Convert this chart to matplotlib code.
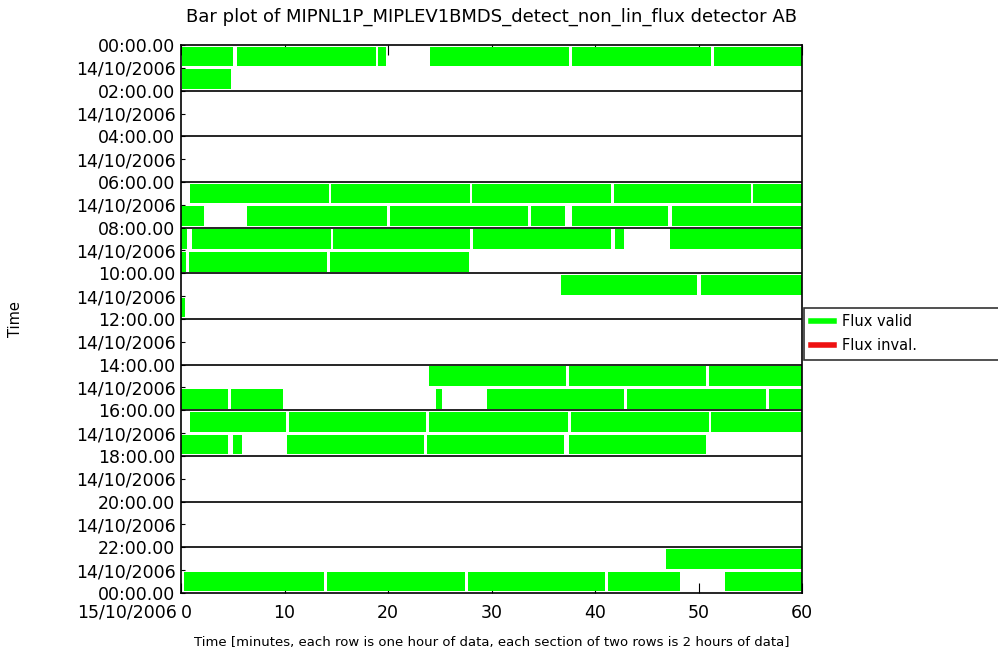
import matplotlib
matplotlib.use('Agg')
import matplotlib.pyplot as plt
from matplotlib.lines import Line2D
from matplotlib.transforms import blended_transform_factory
import numpy as np

# valid flux segments: hour row, start minute, end minute
seg_hour = [0, 0, 0, 0, 0, 0,
            1,
            6, 6, 6, 6, 6,
            7, 7, 7, 7, 7, 7,
            8, 8, 8, 8, 8, 8,
            9, 9, 9,
            10, 10,
            11,
            14, 14, 14,
            15, 15, 15, 15, 15, 15,
            16, 16, 16, 16, 16,
            17, 17, 17, 17, 17,
            22,
            23, 23, 23, 23, 23]
seg_start = [0.1, 5.4, 19.0, 24.1, 37.8, 51.5,
             0.1,
             0.9, 14.5, 28.1, 41.8, 55.3,
             0.0, 6.4, 20.2, 33.8, 37.8, 47.4,
             0.0, 1.1, 14.7, 28.2, 41.9, 47.2,
             0.0, 0.8, 14.4,
             36.7, 50.2,
             0.0,
             24.0, 37.45, 51.0,
             0.0, 4.8, 24.6, 29.6, 43.1, 56.8,
             0.9, 10.4, 24.0, 37.7, 51.2,
             0.0, 5.0, 10.2, 23.75, 37.45,
             46.9,
             0.3, 14.1, 27.75, 41.3, 52.6]
seg_end = [5.0, 18.8, 19.8, 37.5, 51.2, 60.0,
           4.8,
           14.3, 27.9, 41.5, 55.1, 60.0,
           2.2, 19.9, 33.5, 37.1, 47.1, 60.0,
           0.6, 14.5, 27.9, 41.5, 42.8, 60.0,
           0.5, 14.1, 27.8,
           49.9, 60.0,
           0.4,
           37.2, 50.7, 60.0,
           4.5, 9.9, 25.2, 42.8, 56.5, 60.0,
           10.1, 23.7, 37.4, 51.0, 60.0,
           4.5, 5.9, 23.5, 37.05, 50.7,
           60.0,
           13.8, 27.4, 41.0, 48.2, 60.0]

time_labels = ['00:00.00', '02:00.00', '04:00.00', '06:00.00', '08:00.00', '10:00.00',
               '12:00.00', '14:00.00', '16:00.00', '18:00.00', '20:00.00', '22:00.00',
               '00:00.00']
date_labels = ['14/10/2006'] * 12 + ['15/10/2006']

green = '#00ff00'
red = '#ee1111'

fig = plt.figure(figsize=(9.98, 6.59), dpi=100)
ax = fig.add_axes([0.1814, 0.1002, 0.6222, 0.8315])

hours = np.array(seg_hour)
starts = np.array(seg_start)
ends = np.array(seg_end)
ax.barh(hours + 0.5, ends - starts, left=starts, height=0.86,
        color=green, edgecolor='none', zorder=2)

ax.set_xlim(0, 60)
ax.set_ylim(24, 0)

# section lines every 2 hours
for h in range(2, 24, 2):
    ax.axhline(h, color='black', lw=1.2, zorder=3)

# y labels: time on even hours, date on odd hours
yt = list(range(0, 25))
ylabels = []
for h in yt:
    if h % 2 == 0:
        ylabels.append(time_labels[h // 2])
    else:
        ylabels.append(date_labels[h // 2])
ax.set_yticks(yt)
ax.set_yticklabels(ylabels, fontsize=12.5)
trans = blended_transform_factory(ax.transAxes, ax.transData)
ax.text(-0.007, 24.85, date_labels[-1], transform=trans, ha='right', va='center',
        fontsize=12.5, clip_on=False)

ax.set_xticks(np.arange(0, 61, 10))
ax.tick_params(axis='x', direction='in', top=True, length=7, labelsize=12.5, pad=8)
ax.tick_params(axis='y', direction='in', length=3, pad=4)
xlabs = ax.get_xticklabels()
xlabs[0].set_horizontalalignment('left')

for s in ax.spines.values():
    s.set_color('black')
    s.set_linewidth(1.2)

ax.set_title('Bar plot of MIPNL1P_MIPLEV1BMDS_detect_non_lin_flux detector AB',
             fontsize=13, pad=17)
ax.set_xlabel('Time [minutes, each row is one hour of data, each section of two rows is 2 hours of data]',
              fontsize=9.5, labelpad=10)
ax.set_ylabel('Time', fontsize=10.5)
ax.yaxis.set_label_coords(-0.255, 0.5)

handles = [Line2D([0], [0], color=green, lw=4),
           Line2D([0], [0], color=red, lw=4)]
leg = fig.legend(handles, ['Flux valid', 'Flux inval.'], loc='upper left',
                 bbox_to_anchor=(0.806, 0.45, 0.22, 0.083), mode='expand',
                 borderaxespad=0, fontsize=10.5,
                 fancybox=False, edgecolor='black', handlelength=1.6,
                 handletextpad=0.5, borderpad=0.45, labelspacing=0.6)
leg.get_frame().set_linewidth(1.2)

fig.savefig('out.png', dpi=100)
